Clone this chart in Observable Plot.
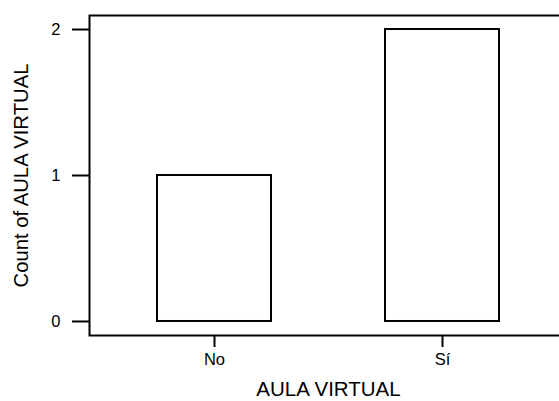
<!DOCTYPE html>
<html>
<head>
<meta charset="utf-8">
<script src="https://cdn.jsdelivr.net/npm/d3@7"></script>
<script src="https://cdn.jsdelivr.net/npm/@observablehq/plot@0.6"></script>
<style>
  html, body { margin: 0; padding: 0; background: white; }
  #chart svg { display: block; }
</style>
</head>
<body>
<div id="chart"></div>
<script>
const categories = ["No", "Sí"];
const counts = [1, 2];
const yTicks = [0, 1, 2];
const xTitle = "AULA VIRTUAL";
const yTitle = "Count of AULA VIRTUAL";

const data = categories.map((c, i) => ({cat: c, n: counts[i]}));

const chart = Plot.plot({
  width: 559,
  height: 401,
  marginLeft: 89,
  marginRight: -8,
  marginTop: 15,
  marginBottom: 66,
  style: {fontFamily: "'Liberation Sans', Arial, sans-serif", fontSize: "16.5px", color: "black", background: "white", overflow: "hidden"},
  x: {domain: categories, paddingInner: 0.5, paddingOuter: 0.298, axis: null},
  y: {domain: [-0.096, 2.096], axis: null},
  marks: [
    Plot.frame({stroke: "black", strokeWidth: 2}),
    Plot.barY(data, {x: "cat", y1: 0, y2: "n", fill: "white", stroke: "black", strokeWidth: 2}),
    Plot.axisY(yTicks, {anchor: "left", tickSize: 17, tickPadding: 12, strokeWidth: 2, fontSize: 16.5, label: null, tickFormat: d => String(d), strokeOpacity: 1}),
    Plot.axisX({anchor: "bottom", tickSize: 12, tickPadding: 6, strokeWidth: 2, fontSize: 16.5, label: null, strokeOpacity: 1}),
    Plot.text([xTitle], {frameAnchor: "bottom", lineAnchor: "top", dy: 46, fontSize: 20.5, fill: "black"}),
    Plot.text([yTitle], {frameAnchor: "left", rotate: -90, dx: -68, textAnchor: "middle", lineAnchor: "middle", fontSize: 20.3, fill: "black"})
  ]
});
document.getElementById("chart").appendChild(chart);
</script>
</body>
</html>
